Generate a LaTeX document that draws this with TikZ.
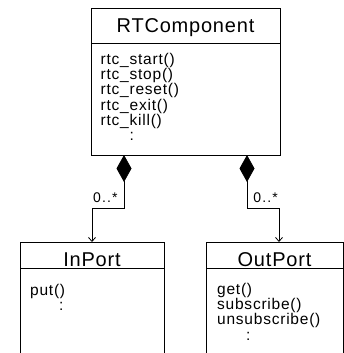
\documentclass[tikz,border=0pt]{standalone}
\usepackage{fontspec}
\setmainfont{Liberation Sans}
\usetikzlibrary{arrows.meta}
\usetikzlibrary{positioning}
\tikzset{>={Straight Barb[length=4pt,width=7pt]}}
\tikzset{
  classname/.style={draw, line width=0.8pt, inner sep=0pt, outer sep=0pt,
    text height=14.5pt, text depth=0pt,
    font=\fontsize{20}{24}\selectfont\addfontfeature{LetterSpace=4}},
  classops/.style={draw, line width=0.8pt, inner sep=0pt, outer sep=0pt},
  opstext/.style={inner sep=0pt, align=left, anchor=north west,
    font=\fontsize{15.5}{15.2}\selectfont\addfontfeature{LetterSpace=5}},
  mult/.style={inner sep=0pt, font=\fontsize{14}{16}\selectfont\addfontfeature{LetterSpace=8}},
  compose/.style={line width=0.8pt, {Diamond[length=27pt,width=15pt]}->},
}
\newcommand{\etc}{\hspace*{29pt}:}

\begin{document}
\begin{tikzpicture}[x=1pt,y=1pt]

  \useasboundingbox (0,0) rectangle (344,-353);
  \clip (0,0) rectangle (344,-353);

  %% RTComponent
  \node[classname, minimum width=189pt, minimum height=35pt, anchor=north west]
  (rtc) at (91,-8) {RTComponent};
  \node[classops, minimum width=189pt, minimum height=112pt, below=0pt of rtc] (rtcops) {};
  \node[opstext] (rtcopstxt) at (100.5,-53)
  {rtc\_start()\\rtc\_stop()\\rtc\_reset()\\rtc\_exit()\\rtc\_kill()\\\etc};

  %% InPort
  \node[classname, text height=22pt, minimum width=144pt, minimum height=26pt, anchor=north west]
  (inport) at (20,-242) {InPort};
  \node[classops, minimum width=144pt, minimum height=100pt, below=0pt of inport] (inportops) {};
  \node[opstext] (inporttxt) at (30,-284) {put()\\\etc};

  %% OutPort
  \node[classname, text height=22pt, minimum width=137pt, minimum height=26pt, anchor=north west]
  (outport) at (206,-242) {OutPort};
  \node[classops, minimum width=137pt, minimum height=100pt, below=0pt of outport] (outportops) {};
  \node[opstext] (outporttxt) at (217,-283) {get()\\subscribe()\\unsubscribe()\\\etc};

  %% compositions
  \coordinate (lbend) at (124,-208);
  \coordinate (rbend) at (247,-208);

  \draw[compose] (rtcops.south -| lbend) -- (lbend)
  node[mult, anchor=south east, xshift=-6pt, yshift=5pt] {0..*}
  -| (inport.north); %% rtc -> InPort
  \draw[compose] (rtcops.south -| rbend) -- (rbend)
  node[mult, anchor=south west, xshift=6pt, yshift=5pt] {0..*}
  -| ([xshift=4.5pt]outport.north); %% rtc -> OutPort

\end{tikzpicture}
\end{document}
